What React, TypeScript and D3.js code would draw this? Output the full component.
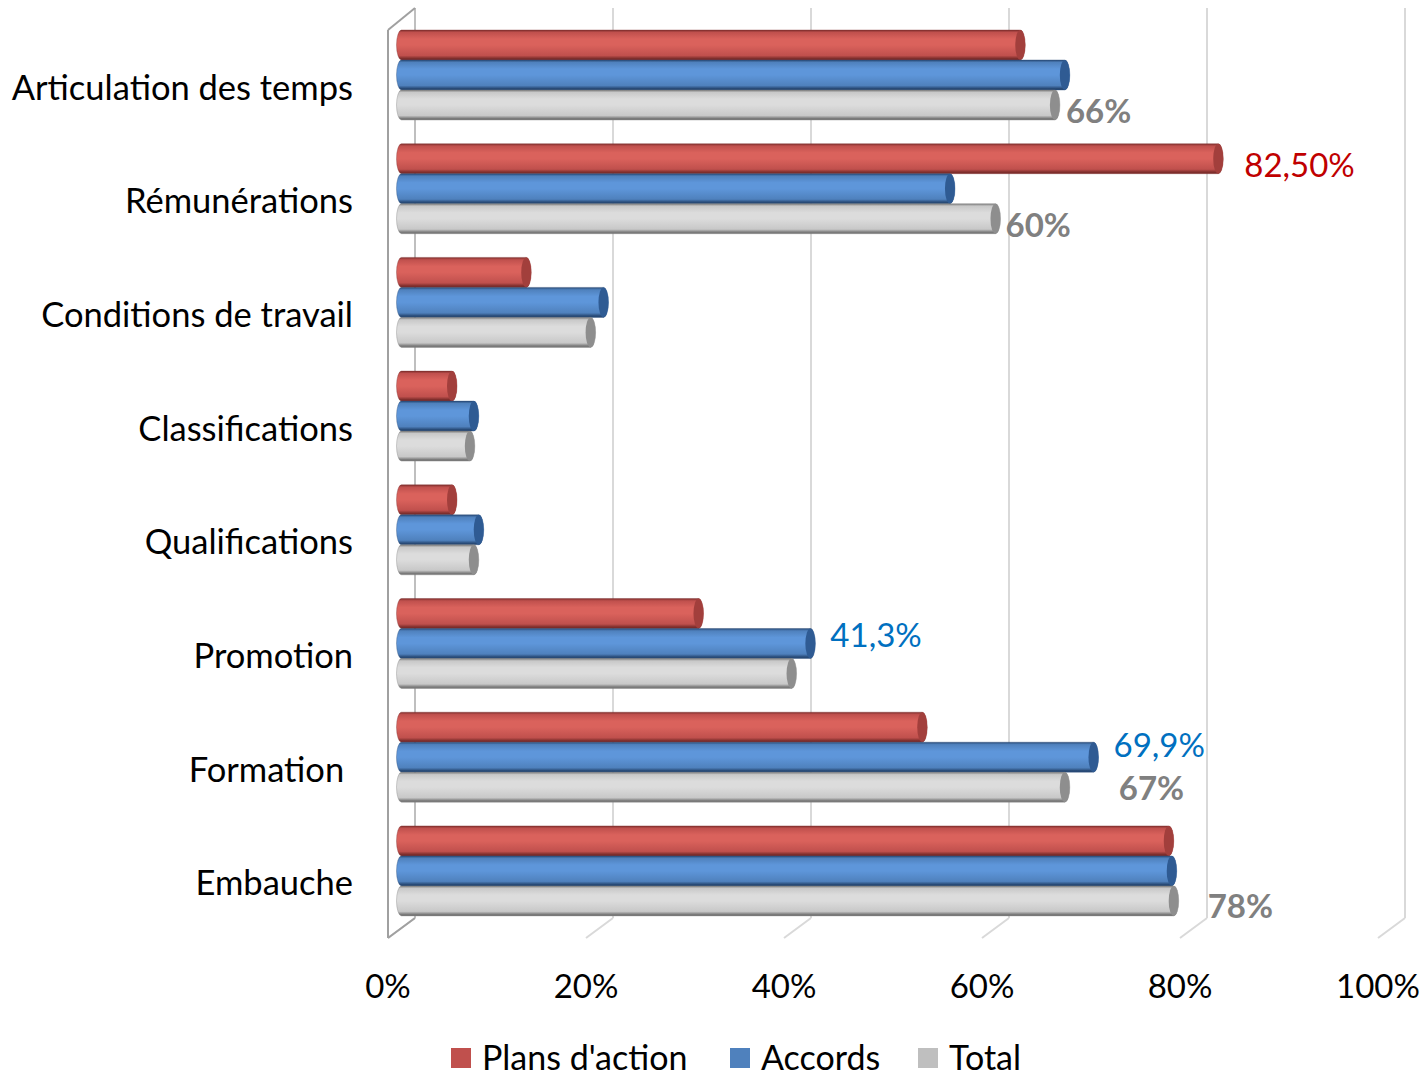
import React from "react";
import * as d3 from "d3";

const categories = [
  "Articulation des temps",
  "Rémunérations",
  "Conditions de travail",
  "Classifications",
  "Qualifications",
  "Promotion",
  "Formation ",
  "Embauche",
];
const seriesNames = ["Plans d'action", "Accords", "Total"];
const plansAction = [62.5, 82.5, 12.6, 5.1, 5.1, 30, 52.6, 77.5];
const accords = [67, 55.4, 20.4, 7.3, 7.8, 41.3, 69.9, 77.8];
const total = [66, 60, 19.1, 6.9, 7.3, 39.4, 67, 78];
const xTicks = [0, 20, 40, 60, 80, 100];
const tickLabels = ["0%", "20%", "40%", "60%", "80%", "100%"];

// annotations: category index, series index, text
const annotations = [
  { c: 0, s: 2, text: "66%", kind: "total", dx: 6, dy: 5 },
  { c: 1, s: 0, text: "82,50%", kind: "plans", dx: 21, dy: 5 },
  { c: 1, s: 2, text: "60%", kind: "total", dx: 5, dy: 5 },
  { c: 5, s: 1, text: "41,3%", kind: "accords", dx: 15, dy: -10 },
  { c: 6, s: 1, text: "69,9%", kind: "accords", dx: 15, dy: -13 },
  { c: 6, s: 2, text: "67%", kind: "total", dx: 49, dy: 0 },
  { c: 7, s: 2, text: "78%", kind: "total", dx: 29, dy: 4 },
];

const seriesValues = [plansAction, accords, total];

const palette = [
  { light: "#DA625C", base: "#C0504D", dark: "#7E2E2C", cap: "#A23F3C", legend: "#C0504D" },
  { light: "#5E96DA", base: "#4F81BD", dark: "#284A76", cap: "#2F5B93", legend: "#4F81BD" },
  { light: "#DCDCDC", base: "#C8C8C8", dark: "#7A7A7A", cap: "#8E8E8E", legend: "#BFBFBF" },
];
const labelStyle: Record<string, { fill: string; weight: number }> = {
  total: { fill: "#808080", weight: 700 },
  plans: { fill: "#C00000", weight: 400 },
  accords: { fill: "#0070C0", weight: 400 },
};

const W = 1421;
const H = 1077;
const FONT = "Lato, 'Open Sans', sans-serif";

export default function App() {
  const xFront = d3.scaleLinear().domain([0, 100]).range([388, 1378]);
  const depthX = 27;
  const depthY = -20;
  const floorY = 938;
  const wallTop = 8;
  const xBar = (v: number) => xFront(v) + depthX / 2;

  const y = d3
    .scaleBand<string>()
    .domain(categories)
    .range([18.15, 927.75])
    .paddingInner(0.2084)
    .paddingOuter(0.1042);
  const ySub = d3
    .scaleBand<string>()
    .domain(seriesNames)
    .range([0, y.bandwidth()]);
  const bh = ySub.bandwidth();
  const rx = 5;

  return (
    <svg width={W} height={H} style={{ display: "block", position: "absolute", left: 0, top: 0 }}>
      <defs>
        {palette.map((p, i) => (
          <linearGradient key={i} id={`g${i}`} x1="0" y1="0" x2="0" y2="1">
            <stop offset="0" stopColor={p.dark} />
            <stop offset="0.08" stopColor={p.base} />
            <stop offset="0.3" stopColor={p.light} />
            <stop offset="0.5" stopColor={p.light} />
            <stop offset="0.85" stopColor={p.base} />
            <stop offset="0.95" stopColor={p.dark} />
            <stop offset="1" stopColor={p.dark} />
          </linearGradient>
        ))}
      </defs>
      <rect width={W} height={H} fill="#fff" />
      {/* back wall gridlines */}
      {xTicks.map((t) => (
        <g key={t}>
          <line
            x1={xFront(t) + depthX}
            x2={xFront(t) + depthX}
            y1={wallTop}
            y2={floorY + depthY}
            stroke={t === 0 ? "#BFBFBF" : "#D9D9D9"}
            strokeWidth={2}
          />
          <line
            x1={xFront(t)}
            x2={xFront(t) + depthX}
            y1={floorY}
            y2={floorY + depthY}
            stroke="#D9D9D9"
            strokeWidth={2}
          />
        </g>
      ))}
      {/* left wall */}
      <line x1={xFront(0)} x2={xFront(0)} y1={wallTop - depthY + 2} y2={floorY} stroke="#A0A0A0" strokeWidth={2} />
      <line x1={xFront(0)} x2={xFront(0) + depthX} y1={wallTop - depthY + 2} y2={wallTop} stroke="#A0A0A0" strokeWidth={2} />
      <line x1={xFront(0)} x2={xFront(0) + depthX} y1={floorY} y2={floorY + depthY} stroke="#A0A0A0" strokeWidth={2} />

      {/* bars */}
      {categories.map((c, ci) => (
        <g key={c}>
          {seriesNames.map((s, si) => {
            const v = seriesValues[si][ci];
            const top = (y(c) as number) + (ySub(s) as number);
            const x0 = xBar(0);
            const x1 = xBar(v);
            const p = palette[si];
            const path = `M${x0},${top} L${x1},${top} A${rx},${bh / 2} 0 0 1 ${x1},${top + bh} L${x0},${top + bh} A${rx},${bh / 2} 0 0 1 ${x0},${top} Z`;
            return (
              <g key={s}>
                <path d={path} fill={`url(#g${si})`} stroke={p.dark} strokeWidth={0.6} strokeOpacity={0.6} />
                <ellipse cx={x1} cy={top + bh / 2} rx={rx} ry={bh / 2} fill={p.cap} />
              </g>
            );
          })}
        </g>
      ))}

      {/* annotations */}
      {annotations.map((a, i) => {
        const st = labelStyle[a.kind];
        const top = (y(categories[a.c]) as number) + (ySub(seriesNames[a.s]) as number);
        const x = xBar(seriesValues[a.s][a.c]) + rx + a.dx;
        return (
          <text
            key={i}
            x={x}
            y={top + bh / 2 + a.dy}
            dominantBaseline="central"
            fontFamily={FONT}
            fontSize={33}
            fontWeight={st.weight}
            fill={st.fill}
          >
            {a.text}
          </text>
        );
      })}

      {/* category labels */}
      {categories.map((c) => (
        <text
          key={c}
          x={353}
          y={(y(c) as number) + y.bandwidth() / 2 + 11}
          textAnchor="end"
          dominantBaseline="central"
          fontFamily={FONT}
          fontSize={34.5}
          fill="#000"
          style={{ whiteSpace: "pre" }}
        >
          {c}
        </text>
      ))}

      {/* x tick labels */}
      {xTicks.map((t, i) => (
        <text
          key={t}
          x={xFront(t)}
          y={985}
          textAnchor="middle"
          dominantBaseline="central"
          fontFamily={FONT}
          fontSize={33}
          fill="#000"
        >
          {tickLabels[i]}
        </text>
      ))}

      {/* legend */}
      {seriesNames.map((s, i) => {
        const xs = [451, 730, 918][i];
        return (
          <g key={s}>
            <rect x={xs} y={1048} width={20} height={20} fill={palette[i].legend} />
            <text x={xs + 31} y={1056} dominantBaseline="central" fontFamily={FONT} fontSize={34} fill="#000">
              {s}
            </text>
          </g>
        );
      })}
    </svg>
  );
}
